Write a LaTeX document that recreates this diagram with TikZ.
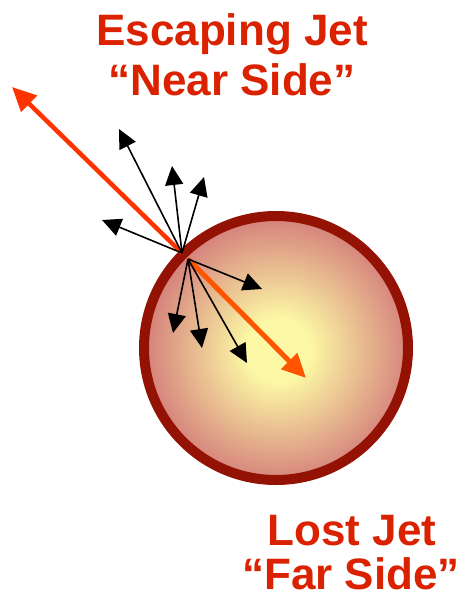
\documentclass[tikz,border=0pt]{standalone}
\usepackage{fontspec}
\setmainfont{Liberation Sans}
\usetikzlibrary{arrows.meta}
\definecolor{txtred}{RGB}{218,34,0}
\definecolor{jetred}{RGB}{255,51,0}
\definecolor{jetorange}{RGB}{255,85,0}
\definecolor{rimred}{RGB}{148,18,4}
\definecolor{coreyellow}{RGB}{252,248,165}
\definecolor{edgepink}{RGB}{213,130,124}
\pgfdeclareradialshading{medshade}{\pgfpoint{0bp}{0bp}}{color(0bp)=(coreyellow); color(6bp)=(coreyellow); color(25bp)=(edgepink); color(50bp)=(edgepink)}
\begin{document}
\begin{tikzpicture}[x=1pt,y=-1pt,
  label/.style={font=\bfseries\fontsize{44}{50}\selectfont, text=txtred, align=center, inner sep=0pt},
  particle/.style={draw=black, line width=1.6pt, -{Triangle[length=19pt,width=18pt]}},
  jet/.style={line width=4.5pt, -{Triangle[length=24pt,width=22pt]}}]
\useasboundingbox (0,0) rectangle (462,597);
% medium
\shade[shading=medshade] (278,350) circle[radius=132];
\draw[rimred, line width=10pt] (276,348) circle[radius=132];
\node[circle, minimum size=264pt, inner sep=0pt] (medium) at (276,348) {};
% emission points
\coordinate (o) at (182,253);
\coordinate (p) at (188,259);
% tips
\coordinate (t1) at (119,129);
\coordinate (t2) at (172,166);
\coordinate (t3) at (204,177);
\coordinate (t4) at (102,220);
\coordinate (b1) at (262,289);
\coordinate (b2) at (173,333);
\coordinate (b3) at (202,348);
\coordinate (b4) at (247,363);
\coordinate (near) at (12,87);
\coordinate (far) at (306,378);
% jets
\draw[jet, jetred] (o) -- (near);
\draw[jet, jetorange, line width=5pt] (p) -- (far);
% fragments
\draw[particle] (o) -- (t1);
\draw[particle] (o) -- (t2);
\draw[particle] (o) -- (t3);
\draw[particle] (o) -- (t4);
\draw[particle] (p) -- (b1);
\draw[particle] (p) -- (b2);
\draw[particle] (p) -- (b3);
\draw[particle] (p) -- (b4);
% labels
\node[label, anchor=base] (esc) at (232,45) {Escaping Jet};
\node[label, anchor=base] (nearside) at (232,95) {“Near Side”};
\node[label, anchor=base] (lost) at (352,545) {Lost Jet};
\node[label, anchor=base] (farside) at (351,589) {“Far Side”};
\end{tikzpicture}
\end{document}
